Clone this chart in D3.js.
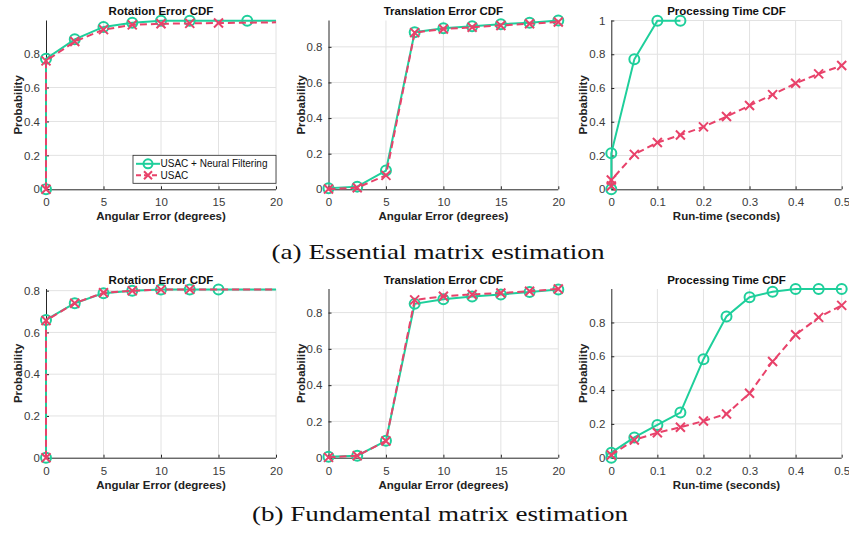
<!DOCTYPE html>
<html>
<head>
<meta charset="utf-8">
<script src="https://cdn.jsdelivr.net/npm/d3@7"></script>
<style>
  body { margin: 0; background: #fff; }
  svg { display: block; }
  text { font-family: "Liberation Sans", Arial, sans-serif; }
</style>
</head>
<body>
<div id="chart"></div>
<script>
// x positions of the CDF samples
var errX = [0, 0, 2.5, 5, 7.5, 10, 12.5, 15, 17.5, 20];
var transX = [0, 2.5, 5, 7.5, 10, 12.5, 15, 17.5, 20];
var timeShortX = [0, 0, 0.05, 0.1, 0.15];
var timeX = [0, 0, 0.05, 0.1, 0.15, 0.2, 0.25, 0.3, 0.35, 0.4, 0.45, 0.5];
var timeX1 = [0, 0.05, 0.1, 0.15, 0.2, 0.25, 0.3, 0.35, 0.4, 0.45, 0.5];

// (a) essential matrix
var essRotNF = [0, 0.770, 0.884, 0.957, 0.982, 0.994, 0.994, 0.994, 0.994, 0.994];
var essRotUSAC = [0, 0.757, 0.871, 0.941, 0.969, 0.976, 0.978, 0.980, 0.982, 0.984];
var essTransNF = [0.006, 0.015, 0.105, 0.882, 0.905, 0.916, 0.927, 0.936, 0.948];
var essTransUSAC = [0.002, 0.009, 0.078, 0.880, 0.900, 0.910, 0.920, 0.930, 0.940];
var essTimeNF = [0, 0.213, 0.770, 0.998, 0.998];
var essTimeUSAC = [0.02, 0.055, 0.207, 0.277, 0.322, 0.370, 0.431, 0.496, 0.561, 0.628, 0.684, 0.733];

// (b) fundamental matrix
var fundRotNF = [0, 0.660, 0.740, 0.788, 0.800, 0.806, 0.806, 0.806, 0.806, 0.806];
var fundRotUSAC = [0, 0.657, 0.740, 0.790, 0.800, 0.805, 0.806, 0.806, 0.806, 0.806];
var fundTransNF = [0.005, 0.011, 0.093, 0.848, 0.874, 0.888, 0.900, 0.914, 0.927];
var fundTransUSAC = [0.002, 0.011, 0.092, 0.870, 0.890, 0.900, 0.908, 0.918, 0.930];
var fundTimeNF = [0, 0.030, 0.120, 0.194, 0.267, 0.583, 0.836, 0.949, 0.982, 0.998, 0.998, 0.998];
var fundTimeUSAC = [0.016, 0.105, 0.148, 0.180, 0.217, 0.259, 0.381, 0.569, 0.727, 0.830, 0.901];

var errTicks = [0, 5, 10, 15, 20];
var timeTicks = [0, 0.1, 0.2, 0.3, 0.4, 0.5];
var probTicks = [0, 0.2, 0.4, 0.6, 0.8, 1];

var seriesNames = ['USAC + Neural Filtering', 'USAC'];
var captions = ['(a) Essential matrix estimation', '(b) Fundamental matrix estimation'];

var GREEN = '#1ecf9b', RED = '#e8426a', AX = '#262626', GRID = '#e2e2e2';

var svg = d3.select('#chart').append('svg')
    .attr('width', 849)
    .attr('height', 535);

function zip(xs, ys, skip) {
  return ys.map(function(y, i) {
    return { x: xs[i], y: y, mark: !(skip && skip.indexOf(i) >= 0) };
  });
}

function panel(cfg) {
  var x = d3.scaleLinear().domain(cfg.xDomain).range([cfg.left, cfg.right]);
  var y = d3.scaleLinear().domain([0, cfg.yMax]).range([cfg.bottom, cfg.top]);
  var g = svg.append('g');
  var yTicks = probTicks.filter(function(t) { return t <= cfg.yMax + 1e-9; });

  // grid
  g.selectAll('.gx').data(cfg.xTicks.slice(1)).enter().append('line')
      .attr('x1', x).attr('x2', x).attr('y1', cfg.top).attr('y2', cfg.bottom)
      .attr('stroke', GRID);
  g.selectAll('.gy').data(yTicks.slice(1)).enter().append('line')
      .attr('y1', y).attr('y2', y).attr('x1', cfg.left).attr('x2', cfg.right)
      .attr('stroke', GRID);

  // axes, ticks pointing in
  var xa = d3.axisBottom(x).tickValues(cfg.xTicks).tickSize(-3).tickPadding(6)
      .tickFormat(function(d) { return String(d); });
  var ya = d3.axisLeft(y).tickValues(yTicks).tickSize(-3).tickPadding(6)
      .tickFormat(function(d) { return String(d); });
  var gx = g.append('g').attr('transform', 'translate(0,' + cfg.bottom + ')').call(xa);
  var gy = g.append('g').attr('transform', 'translate(' + cfg.left + ',0)').call(ya);
  [gx, gy].forEach(function(a) {
    a.select('.domain').attr('stroke', AX).attr('d',
      a === gx ? 'M' + cfg.left + ',0.5H' + cfg.right : 'M0.5,' + cfg.bottom + 'V' + cfg.top);
    a.selectAll('.tick line').attr('stroke', AX);
    a.selectAll('.tick text').attr('fill', '#3a3a3a')
      .style('font-size', '11.5px').style('font-family', '"Liberation Sans", Arial, sans-serif');
  });
  gx.selectAll('.tick text').attr('dy', '0.95em');

  var line = d3.line().x(function(d) { return x(d.x); }).y(function(d) { return y(d.y); });

  cfg.series.forEach(function(s, k) {
    var col = k === 0 ? GREEN : RED;
    g.append('path').datum(s).attr('d', line)
        .attr('fill', 'none').attr('stroke', col).attr('stroke-width', 2)
        .attr('stroke-dasharray', k === 0 ? null : '7,4');
    var pts = s.filter(function(d) { return d.mark; });
    if (k === 0) {
      g.selectAll(null).data(pts).enter().append('circle')
          .attr('cx', function(d) { return x(d.x); })
          .attr('cy', function(d) { return y(d.y); })
          .attr('r', 5).attr('fill', 'none').attr('stroke', col).attr('stroke-width', 2);
    } else {
      g.selectAll(null).data(pts).enter().append('path')
          .attr('transform', function(d) { return 'translate(' + x(d.x) + ',' + y(d.y) + ')'; })
          .attr('d', 'M-4.5,-4.5L4.5,4.5M-4.5,4.5L4.5,-4.5')
          .attr('stroke', col).attr('stroke-width', 2);
    }
  });

  var cx = (cfg.left + cfg.right) / 2;
  g.append('text').attr('x', cx).attr('y', cfg.top - 5.5)
      .attr('text-anchor', 'middle').style('font-size', '11.5px').style('font-weight', 'bold')
      .attr('fill', '#111').text(cfg.title);
  g.append('text').attr('x', cx).attr('y', cfg.bottom + 31)
      .attr('text-anchor', 'middle').style('font-size', '11.5px').style('font-weight', 'bold')
      .attr('fill', '#222').text(cfg.xLabel);
  g.append('text')
      .attr('transform', 'translate(' + (cfg.left - 24) + ',' + ((cfg.top + cfg.bottom) / 2) + ') rotate(-90)')
      .attr('text-anchor', 'middle').style('font-size', '11.5px').style('font-weight', 'bold')
      .attr('fill', '#222').text('Probability');

  if (cfg.legend) {
    var lg = g.append('g');
    var bx = cfg.right - 143, by = cfg.bottom - 34;
    lg.append('rect').attr('x', bx).attr('y', by).attr('width', 143).attr('height', 28)
        .attr('fill', '#fff').attr('stroke', AX).attr('stroke-width', 0.8);
    seriesNames.forEach(function(name, k) {
      var ly = by + 8.5 + k * 11.5;
      var col = k === 0 ? GREEN : RED;
      lg.append('line').attr('x1', bx + 3).attr('x2', bx + 27).attr('y1', ly).attr('y2', ly)
          .attr('stroke', col).attr('stroke-width', 2)
          .attr('stroke-dasharray', k === 0 ? null : '5,3');
      if (k === 0) {
        lg.append('circle').attr('cx', bx + 15).attr('cy', ly).attr('r', 4.5)
            .attr('fill', 'none').attr('stroke', col).attr('stroke-width', 2);
      } else {
        lg.append('path').attr('transform', 'translate(' + (bx + 15) + ',' + ly + ')')
            .attr('d', 'M-4,-4L4,4M-4,4L4,-4').attr('stroke', col).attr('stroke-width', 2);
      }
      lg.append('text').attr('x', bx + 27.5).attr('y', ly + 3.6)
          .style('font-size', '10px').attr('fill', '#111').text(name);
    });
  }
}

var cols = [
  { left: 46, right: 276 },
  { left: 328.5, right: 558.3 },
  { left: 611.3, right: 841.7 }
];
var rows = [
  { top: 20.5, bottom: 189.3 },
  { top: 289, bottom: 457.7 }
];

var panels = [
  { r: 0, c: 0, title: 'Rotation Error CDF', xLabel: 'Angular Error (degrees)', xDomain: [0, 20], xTicks: errTicks,
    yMax: 0.995, legend: true,
    series: [zip(errX, essRotNF, [7, 9]), zip(errX, essRotUSAC, [8, 9])] },
  { r: 0, c: 1, title: 'Translation Error CDF', xLabel: 'Angular Error (degrees)', xDomain: [0, 20], xTicks: errTicks,
    yMax: 0.948,
    series: [zip(transX, essTransNF), zip(transX, essTransUSAC)] },
  { r: 0, c: 2, title: 'Processing Time CDF', xLabel: 'Run-time (seconds)', xDomain: [0, 0.5], xTicks: timeTicks,
    yMax: 1,
    series: [zip(timeShortX, essTimeNF), zip(timeX, essTimeUSAC)] },
  { r: 1, c: 0, title: 'Rotation Error CDF', xLabel: 'Angular Error (degrees)', xDomain: [0, 20], xTicks: errTicks,
    yMax: 0.808,
    series: [zip(errX, fundRotNF, [8, 9]), zip(errX, fundRotUSAC, [7, 8, 9])] },
  { r: 1, c: 1, title: 'Translation Error CDF', xLabel: 'Angular Error (degrees)', xDomain: [0, 20], xTicks: errTicks,
    yMax: 0.93,
    series: [zip(transX, fundTransNF), zip(transX, fundTransUSAC)] },
  { r: 1, c: 2, title: 'Processing Time CDF', xLabel: 'Run-time (seconds)', xDomain: [0, 0.5], xTicks: timeTicks,
    yMax: 0.998,
    series: [zip(timeX, fundTimeNF), zip(timeX1, fundTimeUSAC)] }
];

panels.forEach(function(p) {
  panel(Object.assign({}, p, cols[p.c], rows[p.r]));
});

// sub-figure captions
var capPos = [{ x: 438, y: 259, w: 333 }, { x: 440, y: 521, w: 376 }];
captions.forEach(function(t, i) {
  svg.append('text').attr('x', capPos[i].x).attr('y', capPos[i].y)
      .attr('text-anchor', 'middle')
      .attr('textLength', capPos[i].w).attr('lengthAdjust', 'spacingAndGlyphs')
      .style('font-family', '"Liberation Serif", "DejaVu Serif", serif')
      .style('font-size', '22px').attr('fill', '#111').text(t);
});
</script>
</body>
</html>
